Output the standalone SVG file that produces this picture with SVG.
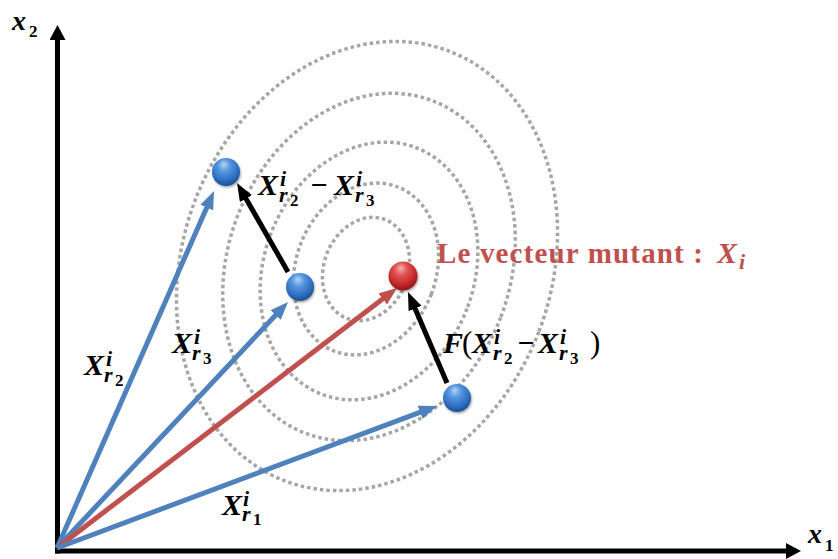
<svg xmlns="http://www.w3.org/2000/svg" width="838" height="559" viewBox="0 0 838 559">
  <style>
    .ring { fill: none; stroke: #a6a6a6; stroke-width: 3.5; stroke-dasharray: 3.5 3; }
    .blue { stroke: #4f81bd; stroke-width: 5; fill: none; }
    .red { stroke: #c0504d; stroke-width: 5; fill: none; }
    .blk { stroke: #000; stroke-width: 5; fill: none; }
    .axis { stroke: #000; stroke-width: 5; fill: none; }
    .m { font-family: "Liberation Serif", "DejaVu Serif", serif; font-weight: bold; font-style: italic; font-size: 30px; fill: #000; }
    .s { font-size: 22px; }
    .d { font-size: 17px; font-style: normal; }
    .p { font-style: normal; font-weight: normal; font-size: 31px; }
    .lab { font-family: "Liberation Serif", "DejaVu Serif", serif; font-weight: bold; font-size: 29px; fill: #c0504d; }
    .ax { font-family: "Liberation Serif", "DejaVu Serif", serif; font-weight: bold; font-style: italic; font-size: 28px; fill: #000; }
  </style>
  <defs>
    <marker id="hb" markerUnits="userSpaceOnUse" markerWidth="20" markerHeight="16" refX="6" refY="7" orient="auto">
      <path d="M0,0 L18,7 L0,14 z" fill="#4f81bd"/>
    </marker>
    <marker id="hr" markerUnits="userSpaceOnUse" markerWidth="20" markerHeight="16" refX="6" refY="7" orient="auto">
      <path d="M0,0 L18,7 L0,14 z" fill="#c0504d"/>
    </marker>
    <marker id="hk" markerUnits="userSpaceOnUse" markerWidth="20" markerHeight="16" refX="6" refY="7" orient="auto">
      <path d="M0,0 L18,7 L0,14 z" fill="#000"/>
    </marker>
    <marker id="ha" markerUnits="userSpaceOnUse" markerWidth="18" markerHeight="18" refX="5" refY="8" orient="auto">
      <path d="M0,0 L15,8 L0,16 z" fill="#000"/>
    </marker>
    <radialGradient id="gb" cx="0.45" cy="0.35" r="0.65" fx="0.42" fy="0.22">
      <stop offset="0" stop-color="#b5d4f7"/>
      <stop offset="0.35" stop-color="#5595df"/>
      <stop offset="0.75" stop-color="#2e6fc1"/>
      <stop offset="1" stop-color="#1d4f92"/>
    </radialGradient>
    <radialGradient id="gr" cx="0.45" cy="0.35" r="0.65" fx="0.42" fy="0.22">
      <stop offset="0" stop-color="#f7b3b3"/>
      <stop offset="0.35" stop-color="#e05353"/>
      <stop offset="0.75" stop-color="#c42828"/>
      <stop offset="1" stop-color="#8e1515"/>
    </radialGradient>
    <filter id="sh" x="-30%" y="-30%" width="160%" height="160%">
      <feDropShadow dx="1" dy="1.5" stdDeviation="1.2" flood-color="#000" flood-opacity="0.35"/>
    </filter>
  </defs>

  <rect width="838" height="559" fill="#fff"/>

  <g id="contours">
    <ellipse class="ring" cx="367" cy="266" rx="184" ry="230" transform="rotate(21 367 266)"/>
    <ellipse class="ring" cx="369" cy="267" rx="141" ry="178" transform="rotate(21 369 267)"/>
    <ellipse class="ring" cx="369" cy="271" rx="105" ry="132" transform="rotate(21 369 271)"/>
    <ellipse class="ring" cx="366" cy="269" rx="70" ry="88" transform="rotate(21 366 269)"/>
    <ellipse class="ring" cx="366" cy="269" rx="42" ry="53" transform="rotate(21 366 269)"/>
  </g>

  <g id="axes">
    <line class="axis" x1="57.5" y1="553.5" x2="57.5" y2="35" marker-end="url(#ha)"/>
    <line class="axis" x1="55" y1="551" x2="791" y2="551" marker-end="url(#ha)"/>
    <text class="ax" x="12" y="30">x<tspan class="d" x="29" y="37" font-size="18px">2</tspan></text>
    <text class="ax" x="808" y="543">x<tspan class="d" x="825" y="551" font-size="18px">1</tspan></text>
  </g>

  <g id="connectors">
    <line class="blue" x1="57" y1="548" x2="209.2" y2="202.0" marker-end="url(#hb)"/>
    <line class="blue" x1="57" y1="548" x2="279.8" y2="310.7" marker-end="url(#hb)"/>
    <line class="red" x1="57" y1="548" x2="387.5" y2="295.3" marker-end="url(#hr)"/>
    <line class="blue" x1="57" y1="548" x2="425.8" y2="410.2" marker-end="url(#hb)"/>
    <line class="blk" x1="288" y1="272" x2="243.0" y2="193.4" marker-end="url(#hk)"/>
    <line class="blk" x1="447" y1="383" x2="412.7" y2="303.0" marker-end="url(#hk)"/>
  </g>

  <g id="xr2">
    <circle cx="226" cy="172" r="14" fill="url(#gb)" filter="url(#sh)"/>
  </g>
  <g id="xr3">
    <circle cx="300" cy="287" r="14" fill="url(#gb)" filter="url(#sh)"/>
  </g>
  <g id="mutant">
    <circle cx="403" cy="276" r="14.5" fill="url(#gr)" filter="url(#sh)"/>
  </g>
  <g id="xr1">
    <circle cx="457" cy="398" r="14" fill="url(#gb)" filter="url(#sh)"/>
  </g>

  <g id="labels">
    <text class="m" x="258" y="195">X<tspan class="s" x="280" y="186">i</tspan><tspan class="s" x="279" y="202">r</tspan><tspan class="d" x="290" y="206">2</tspan><tspan x="310" y="195">−</tspan><tspan x="334" y="195">X</tspan><tspan class="s" x="356" y="186">i</tspan><tspan class="s" x="355" y="202">r</tspan><tspan class="d" x="366" y="206">3</tspan></text>

    <text class="m" x="443" y="353">F<tspan class="p" x="462" y="353">(</tspan><tspan x="472" y="353">X</tspan><tspan class="s" x="494" y="344">i</tspan><tspan class="s" x="493" y="360">r</tspan><tspan class="d" x="504" y="364">2</tspan><tspan x="517" y="353">−</tspan><tspan x="538" y="353">X</tspan><tspan class="s" x="560" y="344">i</tspan><tspan class="s" x="559" y="360">r</tspan><tspan class="d" x="570" y="364">3</tspan><tspan class="p" x="590" y="353">)</tspan></text>

    <text class="m" x="172" y="353">X<tspan class="s" x="194" y="344">i</tspan><tspan class="s" x="192" y="360">r</tspan><tspan class="d" x="203" y="364">3</tspan></text>

    <text class="m" x="84" y="375">X<tspan class="s" x="106" y="366">i</tspan><tspan class="s" x="104" y="382">r</tspan><tspan class="d" x="115" y="386">2</tspan></text>

    <text class="m" x="222" y="515">X<tspan class="s" x="243" y="506">i</tspan><tspan class="s" x="242" y="521">r</tspan><tspan class="d" x="253" y="525">1</tspan></text>

    <text class="lab" x="437" y="263" textLength="266" lengthAdjust="spacing">Le vecteur mutant :</text>
    <text class="m" x="717" y="263" style="fill:#c0504d">X<tspan class="s" x="739" y="269">i</tspan></text>
  </g>
</svg>
